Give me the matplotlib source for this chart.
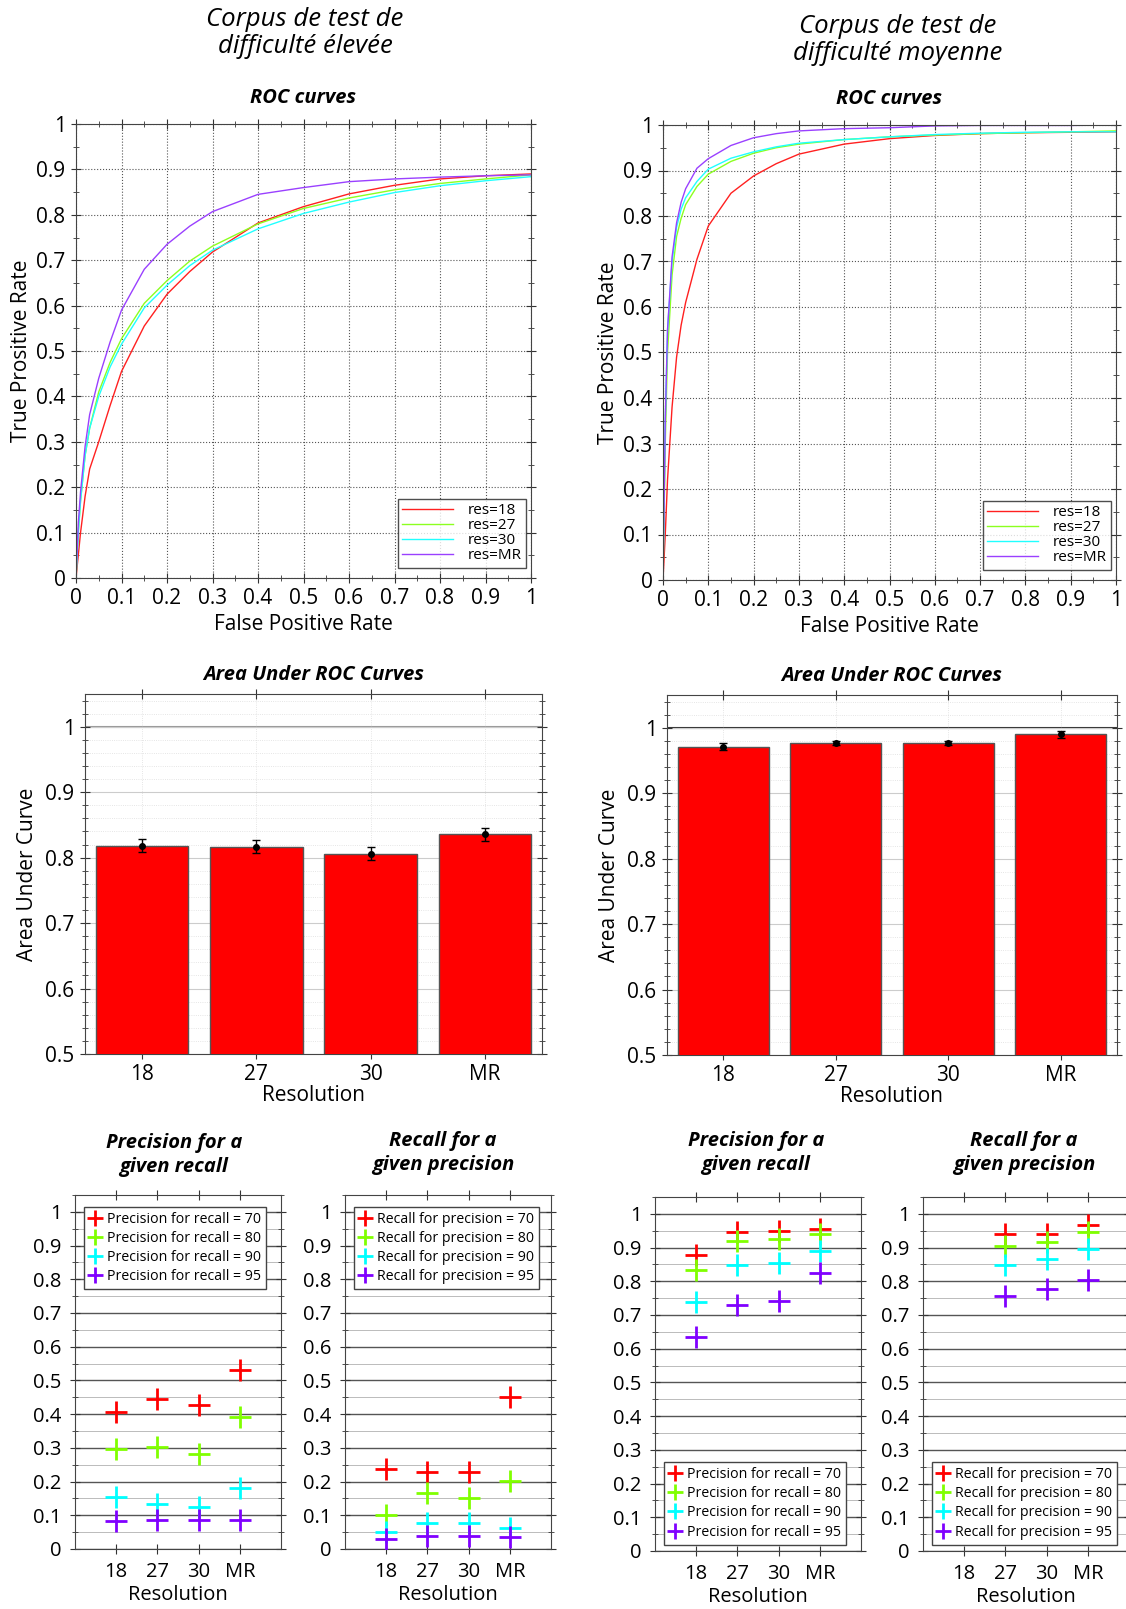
import numpy as np
import matplotlib
matplotlib.use("Agg")
import matplotlib.pyplot as plt
from matplotlib.ticker import MultipleLocator, FuncFormatter

plt.rcParams['font.family'] = ['Open Sans', 'DejaVu Sans']

W, H = 1126, 1609

# ---------------- data ----------------
series_labels = ["res=18", "res=27", "res=30", "res=MR"]
roc_colors = ["#ff2020", "#8cff20", "#20ffff", "#9a40ff"]

# difficulte elevee
fpr_hard = [0, 0.005, 0.01, 0.02, 0.03, 0.05, 0.075, 0.1, 0.15, 0.2, 0.25, 0.3,
            0.4, 0.5, 0.6, 0.7, 0.8, 0.9, 1.0]
tpr_hard_18 = [0, 0.05, 0.10, 0.18, 0.24, 0.30, 0.38, 0.455, 0.555, 0.625, 0.675, 0.718,
               0.782, 0.818, 0.846, 0.865, 0.879, 0.886, 0.890]
tpr_hard_27 = [0, 0.10, 0.17, 0.27, 0.33, 0.41, 0.475, 0.527, 0.605, 0.655, 0.698, 0.731,
               0.780, 0.814, 0.837, 0.855, 0.869, 0.879, 0.888]
tpr_hard_30 = [0, 0.10, 0.17, 0.27, 0.33, 0.40, 0.465, 0.515, 0.595, 0.645, 0.688, 0.722,
               0.769, 0.803, 0.828, 0.849, 0.864, 0.875, 0.884]
tpr_hard_mr = [0, 0.12, 0.19, 0.29, 0.36, 0.44, 0.52, 0.59, 0.68, 0.735, 0.775, 0.807,
               0.845, 0.860, 0.873, 0.879, 0.883, 0.886, 0.888]

# difficulte moyenne
fpr_med = [0, 0.005, 0.01, 0.02, 0.03, 0.04, 0.05, 0.075, 0.1, 0.15, 0.2, 0.25, 0.3,
           0.4, 0.5, 0.6, 0.7, 0.8, 0.9, 1.0]
tpr_med_18 = [0, 0.10, 0.22, 0.38, 0.49, 0.56, 0.61, 0.705, 0.778, 0.85, 0.888, 0.915, 0.936,
              0.958, 0.970, 0.977, 0.981, 0.983, 0.984, 0.985]
tpr_med_27 = [0, 0.30, 0.50, 0.67, 0.755, 0.795, 0.825, 0.865, 0.892, 0.92, 0.938, 0.950, 0.958,
              0.968, 0.974, 0.978, 0.981, 0.983, 0.985, 0.987]
tpr_med_30 = [0, 0.35, 0.55, 0.70, 0.775, 0.815, 0.84, 0.876, 0.903, 0.927, 0.941, 0.952, 0.960,
              0.968, 0.974, 0.979, 0.982, 0.984, 0.985, 0.985]
tpr_med_mr = [0, 0.35, 0.55, 0.71, 0.785, 0.83, 0.86, 0.905, 0.926, 0.955, 0.972, 0.981, 0.987,
              0.992, 0.994, 0.998, 0.999, 0.999, 0.999, 1.0]

resolutions = ["18", "27", "30", "MR"]
auc_hard = [0.818, 0.817, 0.806, 0.836]
auc_hard_err = [0.010, 0.010, 0.010, 0.010]
auc_med = [0.971, 0.976, 0.976, 0.990]
auc_med_err = [0.005, 0.003, 0.003, 0.005]

levels = ["70", "80", "90", "95"]
pt_colors = ["#ff0000", "#80ff00", "#00ffff", "#8000ff"]

prec_hard = [[0.405, 0.446, 0.428, 0.532],
             [0.298, 0.302, 0.281, 0.393],
             [0.155, 0.134, 0.124, 0.180],
             [0.083, 0.086, 0.086, 0.086]]
rec_hard = [[0.237, 0.227, 0.227, 0.450],
            [0.101, 0.165, 0.152, 0.202],
            [0.050, 0.078, 0.076, 0.061],
            [0.029, 0.039, 0.039, 0.037]]
prec_med = [[0.879, 0.946, 0.949, 0.956],
            [0.832, 0.919, 0.924, 0.941],
            [0.739, 0.847, 0.854, 0.891],
            [0.635, 0.731, 0.743, 0.825]]
rec_med = [[np.nan, 0.939, 0.940, 0.968],
           [np.nan, 0.904, 0.917, 0.947],
           [np.nan, 0.848, 0.865, 0.897],
           [np.nan, 0.756, 0.777, 0.803]]

fmt = FuncFormatter(lambda v, p: "%g" % round(v, 2))


def add_ax(fig, x0, y0, x1, y1):
    return fig.add_axes([x0 / W, 1 - y1 / H, (x1 - x0) / W, (y1 - y0) / H])


def style_ticks(ax, size=14.5, pad=3):
    ax.tick_params(which="both", direction="inout", top=True, right=True,
                   labelsize=size, color="#333333", pad=pad)
    ax.tick_params(which="major", length=7)
    ax.tick_params(which="minor", length=4)
    for s in ax.spines.values():
        s.set_color("#444444")


fig = plt.figure(figsize=(W / 100, H / 100), dpi=100)

# super titles
fig.text(305 / W, 1 - 33 / H, "Corpus de test de\ndifficulté élevée", ha="center", va="center",
         fontsize=18.5, style="italic", linespacing=1.15)
fig.text(898 / W, 1 - 40 / H, "Corpus de test de\ndifficulté moyenne", ha="center", va="center",
         fontsize=18.5, style="italic", linespacing=1.15)

# ---------------- ROC curves ----------------
roc_sets = [
    ((76, 124, 531, 578), fpr_hard, [tpr_hard_18, tpr_hard_27, tpr_hard_30, tpr_hard_mr]),
    ((663, 125, 1116, 580), fpr_med, [tpr_med_18, tpr_med_27, tpr_med_30, tpr_med_mr]),
]
for box, fpr, tprs in roc_sets:
    ax = add_ax(fig, *box)
    for tpr, c, lab in zip(tprs, roc_colors, series_labels):
        ax.plot(fpr, tpr, color=c, lw=1, label=lab)
    ax.set_xlim(0, 1)
    ax.set_ylim(0, 1)
    ax.xaxis.set_major_locator(MultipleLocator(0.1))
    ax.yaxis.set_major_locator(MultipleLocator(0.1))
    ax.xaxis.set_minor_locator(MultipleLocator(0.05))
    ax.yaxis.set_minor_locator(MultipleLocator(0.05))
    ax.xaxis.set_major_formatter(fmt)
    ax.yaxis.set_major_formatter(fmt)
    ax.grid(True, which="major", color="#555555", linestyle=":", lw=0.8)
    style_ticks(ax, size=15, pad=4)
    ax.set_xlabel("False Positive Rate", fontsize=15, labelpad=3)
    ax.set_ylabel("True Prositive Rate", fontsize=15, labelpad=3)
    ax.set_title("ROC curves", fontsize=14.5, style="italic", weight="bold", pad=15)
    leg = ax.legend(loc="lower right", fontsize=11, frameon=True, fancybox=False,
                    edgecolor="#222222", handlelength=3.3, handletextpad=1.0,
                    borderpad=0.3, labelspacing=0.0, borderaxespad=0,
                    bbox_to_anchor=(0.99, 0.022))
    leg.get_frame().set_linewidth(1)

# ---------------- AUC bars ----------------
bar_sets = [
    ((85, 694, 542, 1054), auc_hard, auc_hard_err, "#999999"),
    ((667, 695, 1117, 1055), auc_med, auc_med_err, "#333333"),
]
for box, vals, errs, onecol in bar_sets:
    ax = add_ax(fig, *box)
    x = np.arange(len(resolutions))
    ax.bar(x, vals, width=0.81, color="#ff0000", edgecolor="#555555", lw=1, zorder=3)
    ax.errorbar(x, vals, yerr=errs, fmt="o", color="black", ms=4, capsize=3,
                elinewidth=1, zorder=4)
    ax.set_xlim(-0.5, 3.5)
    ax.set_ylim(0.5, 1.05)
    ax.set_xticks(x)
    ax.set_xticklabels(resolutions)
    ax.yaxis.set_major_locator(MultipleLocator(0.1))
    ax.yaxis.set_minor_locator(MultipleLocator(0.02))
    ax.yaxis.set_major_formatter(fmt)
    ax.grid(True, axis="y", which="major", color="#cccccc", lw=0.8, zorder=0)
    ax.grid(True, axis="y", which="minor", color="#dddddd", lw=0.6, linestyle=":", zorder=0)
    ax.grid(True, axis="x", which="major", color="#dddddd", lw=0.6, linestyle=":", zorder=0)
    ax.axhline(1.0, color=onecol, lw=1.5, zorder=1)
    style_ticks(ax, size=15, pad=4)
    ax.set_xlabel("Resolution", fontsize=15, labelpad=0)
    ax.set_ylabel("Area Under Curve", fontsize=15, labelpad=5)
    ax.set_title("Area Under ROC Curves", fontsize=14.5, style="italic", weight="bold", pad=10)

# ---------------- precision / recall points ----------------
pt_sets = [
    ((75, 1195, 281, 1549), prec_hard, "Precision for recall = ", "upper left",
     "Precision for a\ngiven recall", 174, 1155),
    ((345, 1195, 551, 1549), rec_hard, "Recall for precision = ", "upper left",
     "Recall for a\ngiven precision", 443, 1153),
    ((655, 1197, 861, 1551), prec_med, "Precision for recall = ", "lower left",
     "Precision for a\ngiven recall", 756, 1153),
    ((923, 1197, 1129, 1551), rec_med, "Recall for precision = ", "lower left",
     "Recall for a\ngiven precision", 1024, 1153),
]
for box, vals, lab, loc, title, tx, ty in pt_sets:
    ax = add_ax(fig, *box)
    x = np.arange(1, len(resolutions) + 1)
    for row, c, lv in zip(vals, pt_colors, levels):
        ax.plot(x, row, linestyle="none", marker="+", ms=16, mew=2, color=c,
                label=lab + lv, zorder=3)
    ax.set_xlim(0, 5)
    ax.set_ylim(0, 1.05)
    ax.set_xticks(x)
    ax.set_xticklabels(resolutions)
    ax.yaxis.set_major_locator(MultipleLocator(0.1))
    ax.yaxis.set_minor_locator(MultipleLocator(0.05))
    ax.yaxis.set_major_formatter(fmt)
    ax.grid(True, axis="y", which="major", color="#555555", lw=1.0, zorder=0)
    ax.grid(True, axis="y", which="minor", color="#bbbbbb", lw=0.7, zorder=0)
    style_ticks(ax, size=14.5, pad=6)
    ax.set_xlabel("Resolution", fontsize=14.5, labelpad=2)
    anchor = (0.03, 0.01, 0.94, 0.965) if loc == "upper left" else (0.03, 0.01, 0.94, 0.96)
    leg = ax.legend(loc=loc, fontsize=10.2, frameon=True, fancybox=False, edgecolor="#444444",
                    handlelength=0.9, handletextpad=0.35, borderpad=0.35, labelspacing=0.3,
                    borderaxespad=0.2, markerscale=0.7, framealpha=1, bbox_to_anchor=anchor)
    leg.set_zorder(5)
    fig.text(tx / W, 1 - ty / H, title, ha="center", va="center", fontsize=14.5,
             style="italic", weight="bold", linespacing=1.25)

fig.savefig("out.png", dpi=100)
